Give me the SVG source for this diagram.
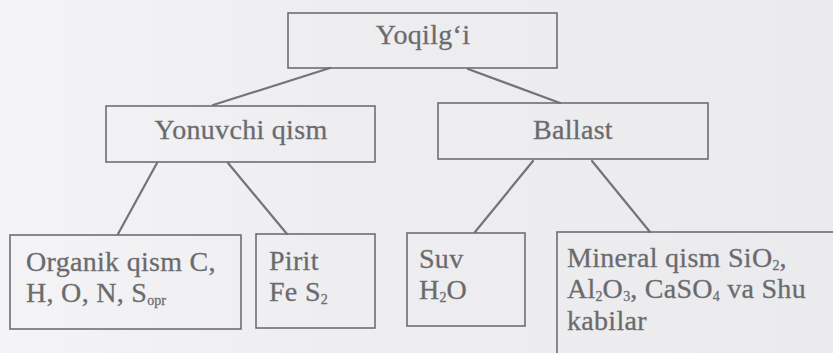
<svg xmlns="http://www.w3.org/2000/svg" width="833" height="353" viewBox="0 0 833 353">
  <defs>
    <linearGradient id="paper" x1="0" y1="0" x2="1" y2="0">
      <stop offset="0" stop-color="#f4f4f6"/>
      <stop offset="0.4" stop-color="#eeeef1"/>
      <stop offset="1" stop-color="#ebebee"/>
    </linearGradient>
  </defs>
  <style>
    .box { fill: none; stroke: #6e6e70; stroke-width: 1.6; }
    .link { stroke: #747476; stroke-width: 2.2; fill: none; stroke-linecap: round; }
    text { font-family: 'Liberation Serif', 'DejaVu Serif', serif; font-size: 28px; letter-spacing: 0.3px; fill: #69696b; stroke: #78787a; stroke-width: 0.35px; }
    .mid { text-anchor: middle; }
    .sub { font-size: 14px; letter-spacing: 0; }
  </style>

  <rect x="0" y="0" width="833" height="353" fill="url(#paper)"/>

  <g id="connectors">
    <line class="link" x1="330" y1="68" x2="213" y2="105"/>
    <line class="link" x1="468" y1="69" x2="560" y2="103"/>
    <line class="link" x1="157" y1="163" x2="118" y2="234"/>
    <line class="link" x1="228" y1="163" x2="287" y2="234"/>
    <line class="link" x1="533" y1="161" x2="475" y2="232"/>
    <line class="link" x1="592" y1="161" x2="650" y2="232"/>
  </g>

  <g id="yoqilgi">
    <rect class="box" x="288" y="13" width="269" height="55"/>
    <text class="mid" x="423" y="44" font-family="Liberation Serif, serif">Yoqilg‘i</text>
  </g>

  <g id="yonuvchi">
    <rect class="box" x="106" y="106" width="269" height="56"/>
    <text class="mid" x="241" y="139" font-family="Liberation Serif, serif">Yonuvchi qism</text>
  </g>

  <g id="ballast">
    <rect class="box" x="438" y="103" width="270" height="56"/>
    <text class="mid" x="573" y="139" font-family="Liberation Serif, serif">Ballast</text>
  </g>

  <g id="organik">
    <rect class="box" x="10" y="235" width="231" height="94"/>
    <text x="26" y="271" font-family="Liberation Serif, serif">Organik qism C,</text>
    <text x="26" y="302" font-family="Liberation Serif, serif">H, O, N, S<tspan class="sub" dy="3">opr</tspan></text>
  </g>

  <g id="pirit">
    <rect class="box" x="256" y="234" width="119" height="94"/>
    <text x="269" y="270" font-family="Liberation Serif, serif">Pirit</text>
    <text x="269" y="301" font-family="Liberation Serif, serif">Fe S<tspan class="sub" dy="3">2</tspan></text>
  </g>

  <g id="suv">
    <rect class="box" x="407" y="233" width="118" height="93"/>
    <text x="419" y="268" font-family="Liberation Serif, serif">Suv</text>
    <text x="419" y="299" font-family="Liberation Serif, serif">H<tspan class="sub" dy="3">2</tspan><tspan dy="-3">O</tspan></text>
  </g>

  <g id="mineral">
    <rect class="box" x="557" y="232" width="290" height="140"/>
    <text x="567" y="267" font-family="Liberation Serif, serif">Mineral qism SiO<tspan class="sub" dy="3">2</tspan><tspan dy="-3">,</tspan></text>
    <text x="567" y="298" font-family="Liberation Serif, serif">Al<tspan class="sub" dy="3">2</tspan><tspan dy="-3">O</tspan><tspan class="sub" dy="3">3</tspan><tspan dy="-3">, CaSO</tspan><tspan class="sub" dy="3">4</tspan><tspan dy="-3"> va Shu</tspan></text>
    <text x="567" y="330" font-family="Liberation Serif, serif">kabilar</text>
  </g>
</svg>
